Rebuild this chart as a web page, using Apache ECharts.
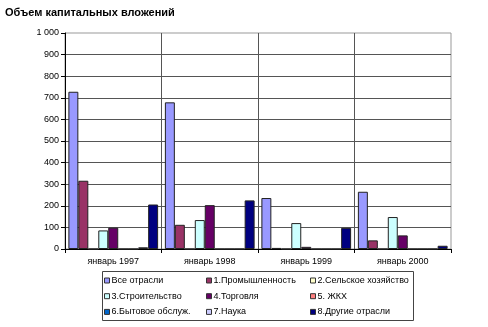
<!DOCTYPE html>
<html><head><meta charset="utf-8">
<script src="https://cdn.jsdelivr.net/npm/echarts@6/dist/echarts.min.js"></script>
<style>html,body{margin:0;padding:0;background:#fff}#c{width:488px;height:327px}</style>
</head><body><div id="c"></div>
<script>
const categories = ['январь 1997', 'январь 1998', 'январь 1999', 'январь 2000'];
const seriesNames = ['Все отрасли', '1.Промышленность', '2.Сельское хозяйство', '3.Строительство', '4.Торговля', '5. ЖКХ', '6.Бытовое обслуж.', '7.Наука', '8.Другие отрасли'];
const allBranches = [728, 679, 236, 265];
const industry = [316, 112, 5, 40];
const agriculture = [0, 0, 0, 0];
const construction = [86, 134, 120, 148];
const trade = [99, 203, 10, 63];
const housing = [0, 0, 0, 0];
const services = [0, 0, 0, 0];
const science = [8, 0, 0, 0];
const otherBranches = [206, 225, 98, 15];
const yTicks = [0, 100, 200, 300, 400, 500, 600, 700, 800, 900, 1000];
const colors = ['#9999FF', '#993366', '#FFFFCC', '#CCFFFF', '#660066', '#FF8080', '#0066CC', '#CCCCFF', '#000080'];
const values = [allBranches, industry, agriculture, construction, trade, housing, services, science, otherBranches];

const font = 'Liberation Sans, Arial, sans-serif';
const chart = echarts.init(document.getElementById('c'), null, {renderer: 'canvas'});
const legendCol = (names, left) => ({
  data: names, left: left, top: 275, orient: 'vertical', padding: 0,
  itemGap: 4.7, itemWidth: 5, itemHeight: 5, icon: 'rect',
  itemStyle: {borderColor: '#333', borderWidth: 1},
  textStyle: {fontFamily: font, fontSize: 9, color: '#000', lineHeight: 11, padding: [0, 0, 0, -3]},
  selectedMode: false
});
chart.setOption({
  animation: false,
  color: colors,
  title: {text: 'Объем капитальных вложений', left: 5, top: 7, padding: 0,
    textStyle: {fontFamily: font, fontSize: 11, fontWeight: 'bold', color: '#000'}},
  grid: {left: 65, right: 37, top: 33, bottom: 78, show: true, borderColor: '#999', borderWidth: 1, backgroundColor: '#fff'},
  legend: [
    legendCol([seriesNames[0], seriesNames[3], seriesNames[6]], 104),
    legendCol([seriesNames[1], seriesNames[4], seriesNames[7]], 206),
    legendCol([seriesNames[2], seriesNames[5], seriesNames[8]], 310)
  ],
  graphic: [{type: 'rect', shape: {x: 102.5, y: 271.5, width: 311, height: 49},
    style: {fill: 'none', stroke: '#444', lineWidth: 1}, silent: true, z: -1}],
  xAxis: {
    type: 'category', data: categories,
    axisLine: {lineStyle: {color: '#000', width: 1}},
    axisTick: {show: true, length: 4, lineStyle: {color: '#000'}, interval: 0},
    axisLabel: {fontFamily: font, fontSize: 9, color: '#000', margin: 8},
    splitLine: {show: true, interval: 0, showMinLine: false, showMaxLine: false, lineStyle: {color: '#555', width: 1}}
  },
  yAxis: {
    type: 'value', min: yTicks[0], max: yTicks[yTicks.length - 1], interval: 100,
    axisLine: {show: true, lineStyle: {color: '#000', width: 1}},
    axisTick: {show: true, length: 4, lineStyle: {color: '#000'}},
    axisLabel: {fontFamily: font, fontSize: 9, color: '#000', margin: 6,
      formatter: v => v >= 1000 ? String(v).replace(/\B(?=(\d{3})+(?!\d))/g, ' ') : String(v)},
    splitLine: {show: true, showMaxLine: false, lineStyle: {color: '#555', width: 1}}
  },
  series: seriesNames.map((n, i) => ({
    name: n, type: 'bar', data: values[i],
    barGap: '0%', barCategoryGap: '7%',
    itemStyle: {color: colors[i], borderColor: '#222', borderWidth: 1}
  }))
});
</script></body></html>
